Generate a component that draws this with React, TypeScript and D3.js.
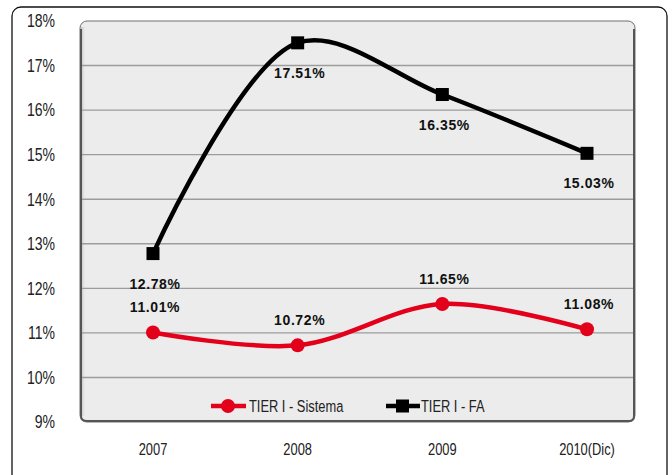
import React from "react";
import * as d3 from "d3";

const WIDTH = 672;
const HEIGHT = 475;

const years = ["2007", "2008", "2009", "2010(Dic)"];
const sistema = [11.01, 10.72, 11.65, 11.08];
const fa = [12.78, 17.51, 16.35, 15.03];
const yTicks = [9, 10, 11, 12, 13, 14, 15, 16, 17, 18];

const RED = "#e2001a";
const SANS = "'Liberation Sans', Arial, sans-serif";

const plot = { left: 80, right: 635, top: 21, bottom: 422 };

// condensed look: squeeze regular text horizontally
const Narrow = ({
  x,
  y,
  anchor = "start",
  size = 16,
  children,
}: {
  x: number;
  y: number;
  anchor?: string;
  size?: number;
  children: React.ReactNode;
}) => (
  <text
    transform={`translate(${x},${y}) scale(0.78,1)`}
    textAnchor={anchor}
    fontFamily={SANS}
    fontSize={size}
    fill="#222"
    dy="0.35em"
  >
    {children}
  </text>
);

export default function App() {
  const x = d3.scalePoint<string>().domain(years).range([153, 587]);
  const y = d3.scaleLinear().domain([9, 18]).range([plot.bottom, plot.top]);

  const line = d3
    .line<number>()
    .x((_, i) => x(years[i])!)
    .y((d) => y(d))
    .curve(d3.curveCatmullRom.alpha(0.5));

  const fmt = (v: number) => `${v.toFixed(2)}%`;

  return (
    <svg
      width={WIDTH}
      height={HEIGHT}
      style={{ position: "absolute", left: 0, top: 0, background: "#fff" }}
    >
      <defs>
        <linearGradient id="shadeL" x1="0" x2="1" y1="0" y2="0">
          <stop offset="0" stopColor="#9a9a9a" />
          <stop offset="1" stopColor="#ebeceb" stopOpacity={0} />
        </linearGradient>
      </defs>
      {/* outer frame */}
      <rect x={12} y={7} width={655} height={480} rx={9} fill="#fff" stroke="#111" strokeWidth={1.3} />
      {/* plot background */}
      <rect
        x={plot.left}
        y={plot.top}
        width={plot.right - plot.left}
        height={plot.bottom - plot.top}
        rx={7}
        fill="#ebeceb"
        stroke="#6e6e6e"
        strokeWidth={1}
      />
      <rect x={plot.left + 1} y={plot.top + 6} width={5} height={plot.bottom - plot.top - 12} fill="url(#shadeL)" opacity={0.6} />
      <path
        d={`M${plot.left + 1},${plot.top + 8} L${plot.left + 1},${plot.bottom - 6} Q${plot.left + 1},${plot.bottom - 1} ${plot.left + 7},${plot.bottom - 1} L${plot.right - 6},${plot.bottom - 1} Q${plot.right - 1},${plot.bottom - 1} ${plot.right - 1},${plot.bottom - 6} L${plot.right - 1},${plot.top + 8}`}
        fill="none"
        stroke="#555"
        strokeWidth={2}
      />

      {/* gridlines */}
      {yTicks
        .filter((t) => t > 9 && t < 18)
        .map((t) => (
          <line key={t} x1={plot.left + 2} x2={plot.right - 2} y1={y(t)} y2={y(t)} stroke="#9c9c9c" strokeWidth={1.4} />
        ))}

      {/* y axis labels */}
      {yTicks.map((t) => (
        <Narrow key={t} x={55} y={y(t)} anchor="end" size={18}>
          {t}%
        </Narrow>
      ))}

      {/* x axis labels */}
      {years.map((yr) => (
        <Narrow key={yr} x={x(yr)!} y={449} anchor="middle" size={16.5}>
          {yr}
        </Narrow>
      ))}

      {/* FA series */}
      <path d={line(fa) || ""} fill="none" stroke="#000" strokeWidth={4.5} />
      {fa.map((v, i) => (
        <rect key={i} x={x(years[i])! - 6.5} y={y(v) - 6.5} width={13} height={13} fill="#000" />
      ))}

      {/* Sistema series */}
      <path d={line(sistema) || ""} fill="none" stroke={RED} strokeWidth={4.5} />
      {sistema.map((v, i) => (
        <circle key={i} cx={x(years[i])} cy={y(v)} r={7} fill={RED} />
      ))}

      {/* value labels */}
      <g fontFamily={SANS} fontWeight="bold" fontSize={14} fill="#111" textAnchor="middle" letterSpacing={0.6}>
        {fa.map((v, i) => (
          <text key={`fa${i}`} x={x(years[i])! + 2} y={y(v) + 35}>
            {fmt(v)}
          </text>
        ))}
        {sistema.map((v, i) => (
          <text key={`s${i}`} x={x(years[i])! + 2} y={y(v) - 20}>
            {fmt(v)}
          </text>
        ))}
      </g>

      {/* legend */}
      <line x1={211} x2={246} y1={406} y2={406} stroke={RED} strokeWidth={4.5} />
      <circle cx={228} cy={406} r={7} fill={RED} />
      <Narrow x={249} y={406} size={16.5}>
        TIER I - Sistema
      </Narrow>
      <line x1={386} x2={420} y1={406} y2={406} stroke="#000" strokeWidth={4.5} />
      <rect x={396} y={399.5} width={13} height={13} fill="#000" />
      <Narrow x={421} y={406} size={16.5}>
        TIER I - FA
      </Narrow>
    </svg>
  );
}
